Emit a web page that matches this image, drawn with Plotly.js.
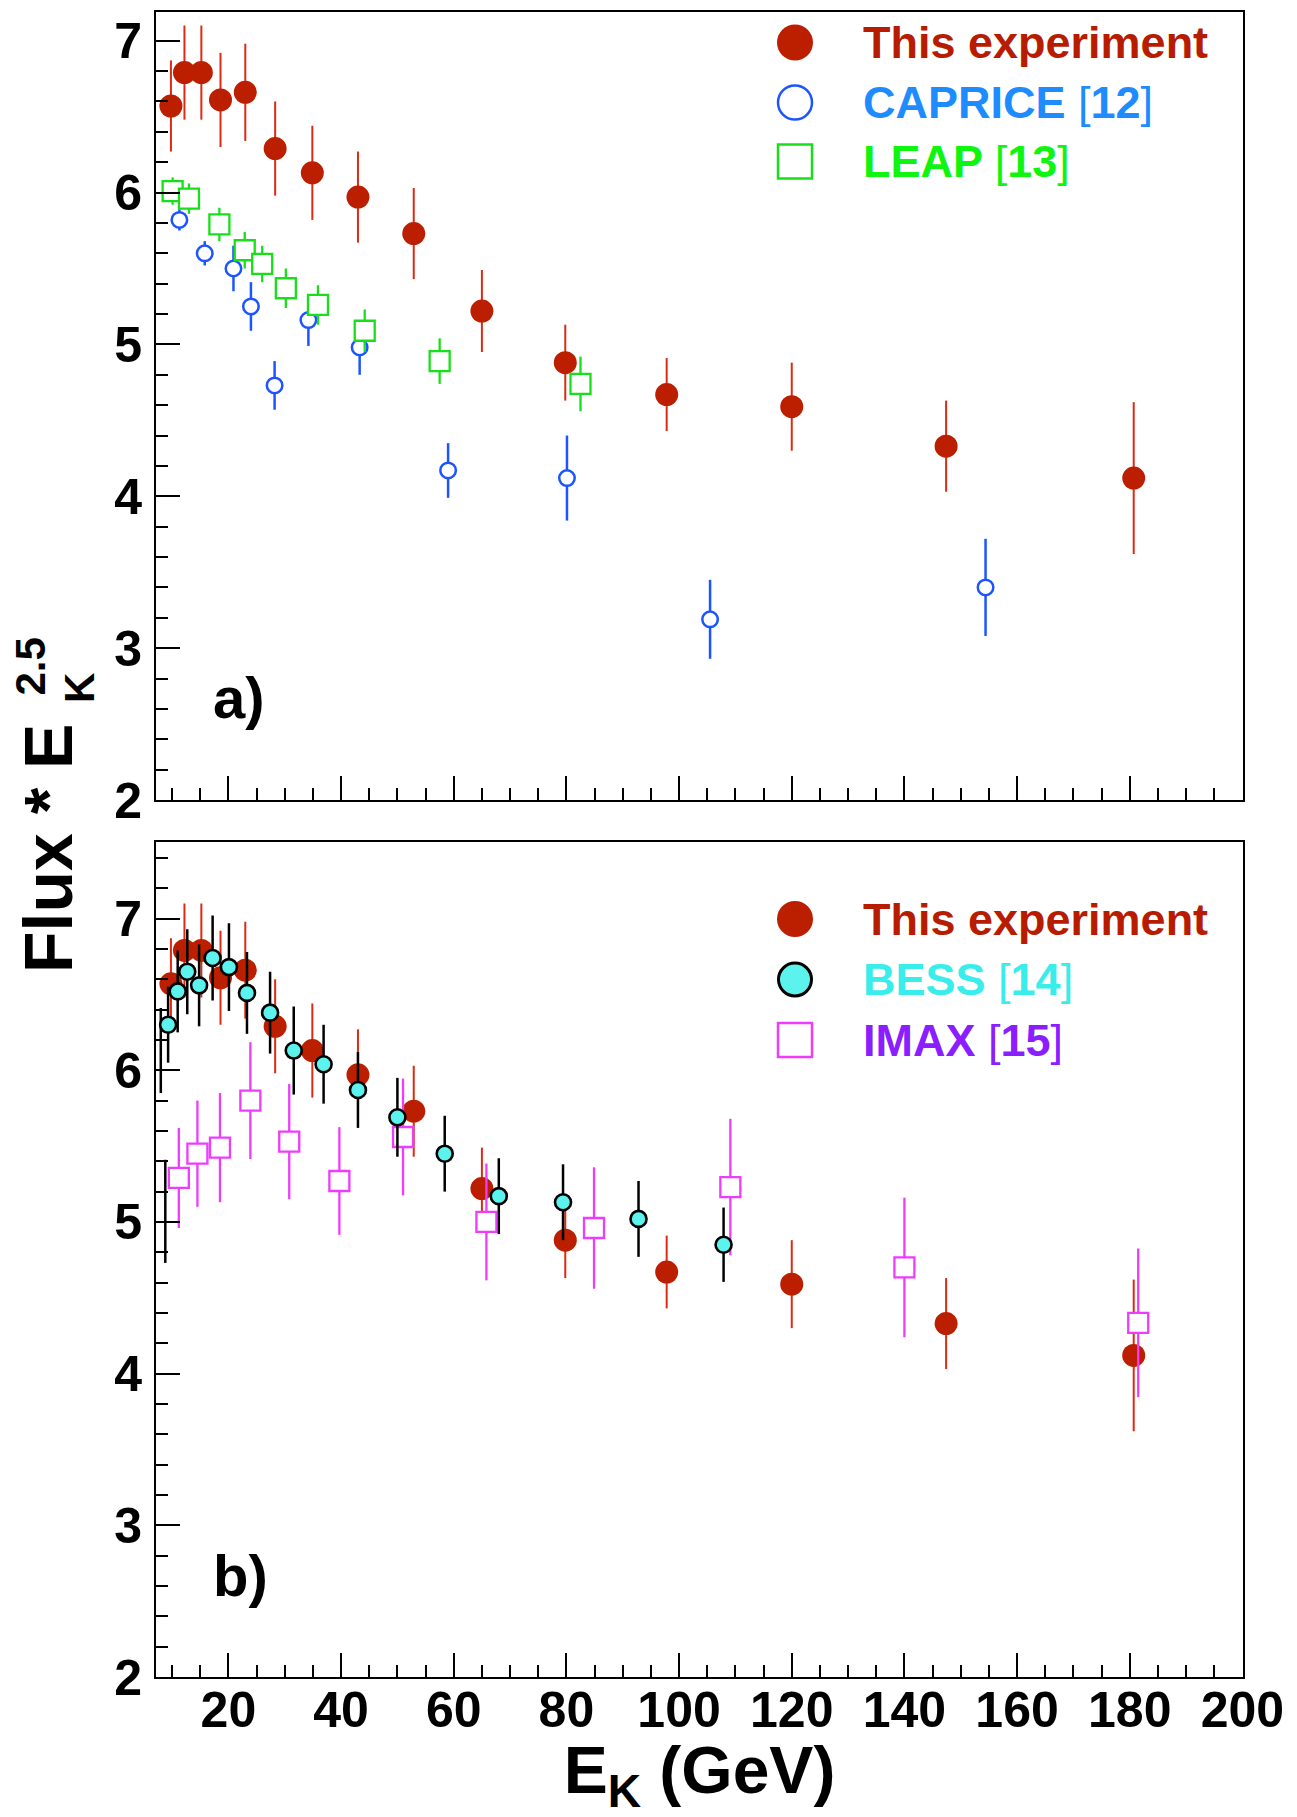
<!DOCTYPE html>
<html>
<head>
<meta charset="utf-8">
<script src="https://cdn.plot.ly/plotly-3.0.1.min.js"></script>
<style>html,body{margin:0;padding:0;background:#fff;}#chart{width:1297px;height:1817px;}</style>
</head>
<body>
<div id="chart"></div>
<script>
// ---------------- data ----------------
// This experiment (same points in both panels)
const thisExpX   = [9.8, 12.2, 15.2, 18.6, 23.0, 28.3, 34.9, 43.0, 52.9, 65.0, 79.8, 97.8, 120.0, 147.4, 180.7];
const thisExpY   = [6.57, 6.79, 6.79, 6.61, 6.66, 6.29, 6.13, 5.97, 5.73, 5.22, 4.88, 4.67, 4.59, 4.33, 4.12];
const thisExpErr = [0.30, 0.31, 0.31, 0.31, 0.32, 0.31, 0.31, 0.30, 0.30, 0.27, 0.25, 0.24, 0.29, 0.30, 0.50];

// CAPRICE [12]
const capriceX   = [11.3, 15.8, 20.9, 24.0, 28.2, 34.2, 43.3, 59.0, 80.1, 105.5, 154.4];
const capriceY   = [5.82, 5.60, 5.50, 5.25, 4.73, 5.16, 4.98, 4.17, 4.12, 3.19, 3.40];
const capriceErr = [0.07, 0.08, 0.15, 0.16, 0.16, 0.17, 0.18, 0.18, 0.28, 0.26, 0.32];

// LEAP [13]
const leapX   = [10.1, 13.0, 18.4, 22.9, 26.0, 30.2, 35.9, 44.2, 57.5, 82.5];
const leapY   = [6.01, 5.96, 5.79, 5.62, 5.53, 5.37, 5.26, 5.09, 4.89, 4.74];
const leapErr = [0.09, 0.10, 0.11, 0.12, 0.12, 0.13, 0.13, 0.14, 0.15, 0.18];

// BESS [14]
const bessX   = [9.3, 11.0, 12.7, 14.8, 17.2, 20.1, 23.3, 27.4, 31.6, 36.9, 43.0, 50.0, 58.4, 68.0, 79.4, 92.8, 107.9];
const bessY   = [6.30, 6.52, 6.65, 6.56, 6.74, 6.68, 6.51, 6.38, 6.13, 6.04, 5.87, 5.69, 5.45, 5.17, 5.13, 5.02, 4.85];
const bessErr = [0.25, 0.27, 0.28, 0.27, 0.28, 0.29, 0.27, 0.27, 0.29, 0.26, 0.25, 0.26, 0.25, 0.25, 0.25, 0.25, 0.245];
// BESS points at the frame edge whose markers are not drawn (only error bars visible)
const bessEdgeX   = [8.0, 8.8];
const bessEdgeY   = [6.13, 5.07];
const bessEdgeErr = [0.28, 0.34];

// IMAX [15]
const imaxX   = [11.2, 14.5, 18.5, 23.9, 30.8, 39.7, 51.0, 65.8, 84.9, 109.1, 140.0, 181.5];
const imaxY   = [5.29, 5.45, 5.49, 5.80, 5.53, 5.27, 5.56, 5.00, 4.96, 5.23, 4.70, 4.335];
const imaxErr = [0.33, 0.35, 0.36, 0.385, 0.38, 0.355, 0.385, 0.385, 0.40, 0.45, 0.46, 0.49];

// axis ticks
const xTickStep = 20, xMinorStep = 5;
const yTickStep = 1,  yMinorStep = 0.2;

// legend texts
const legendTop    = ['This experiment', 'CAPRICE ', 'LEAP '];
const legendTopRef = ['', '[12]', '[13]'];
const legendBot    = ['This experiment', 'BESS ', 'IMAX '];
const legendBotRef = ['', '[14]', '[15]'];

// ---------------- styling ----------------
const FONT = 'Liberation Sans, Arial, Helvetica, sans-serif';
const C = {
  expMk: '#BC1F00', expErr: '#DD2A12', expTxt: '#B81C00',
  capMk: '#1C55FF', capTxt: '#1E8CFF',
  leapMk: '#18E018', leapTxt: '#10F510',
  bessMk: '#5CF2EE', bessTxt: '#38EDEA',
  imaxMk: '#EE3CFF', imaxTxt: '#8A1EFF'
};

// page geometry (pixels) -> paper coordinates
const W = 1297, H = 1817, ML = 156, MR = 54, MT = 12, MB = 140;
const PW = W - ML - MR, PH = H - MT - MB;
const px = v => (v - ML) / PW;
const py = v => (H - MB - v) / PH;

function errTrace(x, y, e, xa, ya, mk, errColor, errW, name) {
  return {
    type: 'scatter', mode: 'markers', x: x, y: y, xaxis: xa, yaxis: ya, name: name,
    showlegend: false, cliponaxis: true,
    marker: mk,
    error_y: { type: 'data', array: e, visible: true, color: errColor, thickness: errW, width: 0 },
    hoverinfo: 'x+y'
  };
}

const expMarker  = { symbol: 'circle', size: 23, color: C.expMk, line: { width: 0 } };
const capMarker  = { symbol: 'circle', size: 15.5, color: '#ffffff', line: { width: 2.5, color: C.capMk } };
const leapMarker = { symbol: 'square', size: 20, color: '#ffffff', line: { width: 2.3, color: C.leapMk } };
const bessMarker = { symbol: 'circle', size: 16, color: C.bessMk, line: { width: 2.6, color: '#000000' } };
const imaxMarker = { symbol: 'square', size: 20, color: '#ffffff', line: { width: 2.3, color: C.imaxMk } };
const hiddenMarker = { symbol: 'circle', size: 1, opacity: 0, color: '#000000' };

const data = [
  errTrace(thisExpX, thisExpY, thisExpErr, 'x', 'y', expMarker, C.expErr, 2, 'This experiment'),
  errTrace(capriceX, capriceY, capriceErr, 'x', 'y', capMarker, C.capMk, 2.5, 'CAPRICE [12]'),
  errTrace(leapX, leapY, leapErr, 'x', 'y', leapMarker, C.leapMk, 2.3, 'LEAP [13]'),
  errTrace(thisExpX, thisExpY, thisExpErr, 'x2', 'y2', expMarker, C.expErr, 2, 'This experiment'),
  errTrace(imaxX, imaxY, imaxErr, 'x2', 'y2', imaxMarker, C.imaxMk, 2.3, 'IMAX [15]'),
  errTrace(bessEdgeX, bessEdgeY, bessEdgeErr, 'x2', 'y2', hiddenMarker, '#000000', 2.5, 'BESS [14] (edge)'),
  errTrace(bessX, bessY, bessErr, 'x2', 'y2', bessMarker, '#000000', 2.5, 'BESS [14]')
];

function xAxis(showLabels, anchor) {
  return {
    anchor: anchor, domain: [0, 1], range: [7.15, 200.1],
    tick0: 0, dtick: xTickStep, ticks: 'inside', ticklen: 24, tickwidth: 2, tickcolor: '#000',
    showline: true, linewidth: 2, linecolor: '#000', mirror: true,
    showgrid: false, zeroline: false, fixedrange: true,
    showticklabels: showLabels,
    tickfont: { family: FONT, size: 50, color: '#000', weight: 700 },
    ticklabelstandoff: -12,
    minor: { tick0: 0, dtick: xMinorStep, ticks: 'inside', ticklen: 12, tickwidth: 2, tickcolor: '#000', showgrid: false }
  };
}
function yAxis(domain, range, anchor) {
  return {
    anchor: anchor, domain: domain, range: range,
    tick0: 0, dtick: yTickStep, ticks: 'inside', ticklen: 24, tickwidth: 2, tickcolor: '#000',
    showline: true, linewidth: 2, linecolor: '#000', mirror: true,
    showgrid: false, zeroline: false, fixedrange: true,
    tickfont: { family: FONT, size: 50, color: '#000', weight: 700 },
    ticklabelstandoff: 2,
    minor: { tick0: 0, dtick: yMinorStep, ticks: 'inside', ticklen: 12, tickwidth: 2, tickcolor: '#000', showgrid: false }
  };
}

const xa2 = xAxis(true, 'y2');
xa2.title = { text: 'E<sub>K</sub> (GeV)', font: { family: FONT, size: 66, color: '#000', weight: 700 }, standoff: 35 };

// legend keys (shapes) and texts (annotations)
const shapes = [];
const annotations = [];
function key(type, cxPx, cyPx, d, fill, lineColor, lineW) {
  shapes.push({
    type: type, xref: 'paper', yref: 'paper', xsizemode: 'pixel', ysizemode: 'pixel',
    xanchor: px(cxPx), yanchor: py(cyPx), x0: -d / 2, x1: d / 2, y0: -d / 2, y1: d / 2,
    fillcolor: fill, line: { color: lineColor, width: lineW }
  });
}
function label(text, ref, color, xPx, yPx) {
  annotations.push({
    xref: 'paper', yref: 'paper', x: px(xPx), y: py(yPx), xanchor: 'left', yanchor: 'middle',
    showarrow: false, borderpad: 0,
    text: text + (ref ? '<span style="font-weight:normal">[</span>' + ref.slice(1, -1) + '<span style="font-weight:normal">]</span>' : ''),
    font: { family: FONT, size: 45, color: color, weight: 700 }
  });
}
const keyX = 795, textX = 862;
const rowsTop = [42.5, 102.5, 161.5];
const rowsBot = [919, 979.5, 1040];
key('circle', keyX, rowsTop[0], 36, C.expMk, C.expMk, 0);
key('circle', keyX, rowsTop[1], 34, 'rgba(0,0,0,0)', C.capMk, 2.5);
key('rect',   keyX, rowsTop[2], 34, 'rgba(0,0,0,0)', C.leapMk, 2.5);
label(legendTop[0], legendTopRef[0], C.expTxt, textX, rowsTop[0]);
label(legendTop[1], legendTopRef[1], C.capTxt, textX, rowsTop[1]);
label(legendTop[2], legendTopRef[2], C.leapTxt, textX, rowsTop[2]);
key('circle', keyX, rowsBot[0], 36, C.expMk, C.expMk, 0);
key('circle', keyX, rowsBot[1], 33, C.bessMk, '#000', 3);
key('rect',   keyX, rowsBot[2], 34, 'rgba(0,0,0,0)', C.imaxMk, 2.5);
label(legendBot[0], legendBotRef[0], C.expTxt, textX, rowsBot[0]);
label(legendBot[1], legendBotRef[1], C.bessTxt, textX, rowsBot[1]);
label(legendBot[2], legendBotRef[2], C.imaxTxt, textX, rowsBot[2]);

// panel labels
annotations.push({ xref: 'paper', yref: 'paper', x: px(212), y: py(697), xanchor: 'left', yanchor: 'middle',
  showarrow: false, borderpad: 0, text: 'a)', font: { family: FONT, size: 58, color: '#000', weight: 700 } });
annotations.push({ xref: 'paper', yref: 'paper', x: px(212), y: py(1575), xanchor: 'left', yanchor: 'middle',
  showarrow: false, borderpad: 0, text: 'b)', font: { family: FONT, size: 58, color: '#000', weight: 700 } });

// y-axis title: Flux * E with stacked sub/superscript
annotations.push({ xref: 'paper', yref: 'paper', x: px(47.5), y: py(848.5), xanchor: 'center', yanchor: 'middle',
  showarrow: false, borderpad: 0, textangle: -90, text: 'Flux * E', font: { family: FONT, size: 68, color: '#000', weight: 700 } });
annotations.push({ xref: 'paper', yref: 'paper', x: px(79.5), y: py(688.5), xanchor: 'center', yanchor: 'middle',
  showarrow: false, borderpad: 0, textangle: -90, text: 'K', font: { family: FONT, size: 42, color: '#000', weight: 700 } });
annotations.push({ xref: 'paper', yref: 'paper', x: px(30), y: py(666.5), xanchor: 'center', yanchor: 'middle',
  showarrow: false, borderpad: 0, textangle: -90, text: '2.5', font: { family: FONT, size: 42, color: '#000', weight: 700 } });

const layout = {
  width: W, height: H,
  margin: { l: ML, r: MR, t: MT, b: MB, autoexpand: false },
  paper_bgcolor: '#ffffff', plot_bgcolor: '#ffffff',
  showlegend: false,
  font: { family: FONT, color: '#000' },
  xaxis: xAxis(false, 'y'),
  yaxis: yAxis([py(800), 1], [2, 7.189], 'x'),
  xaxis2: xa2,
  yaxis2: yAxis([0, py(842.3)], [2, 7.503], 'x2'),
  shapes: shapes,
  annotations: annotations
};

Plotly.newPlot('chart', data, layout, { displayModeBar: false, staticPlot: true });
</script>
</body>
</html>
